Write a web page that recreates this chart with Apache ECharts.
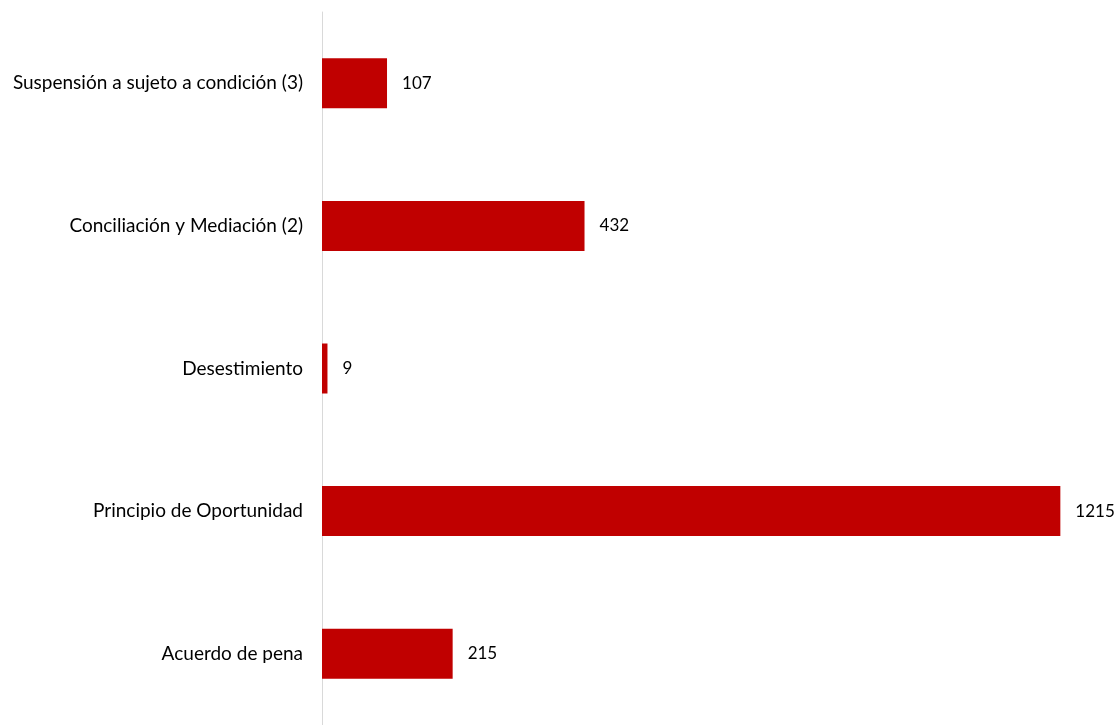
<!DOCTYPE html>
<html><head><meta charset="utf-8">
<script src="https://cdn.jsdelivr.net/npm/echarts@6/dist/echarts.min.js"></script>
<style>html,body{margin:0;padding:0;background:#fff}#c{width:1120px;height:725px}</style>
</head><body><div id="c"></div>
<script>
const categories = ["Acuerdo de pena", "Principio de Oportunidad", "Desestimiento", "Conciliación y Mediación (2)", "Suspensión a sujeto a condición (3)"];
const values = [215, 1215, 9, 432, 107];

const chart = echarts.init(document.getElementById('c'));
chart.setOption({
  animation: false,
  grid: { left: 322, top: 12, width: 790, height: 717, containLabel: false },
  xAxis: { type: 'value', min: 0, max: 1300, show: false },
  yAxis: {
    type: 'category', data: categories,
    axisLine: { show: true, lineStyle: { color: '#d9d9d9', width: 1 } },
    axisTick: { show: false },
    axisLabel: { color: '#000', fontFamily: 'Lato', fontSize: 19, margin: 19 }
  },
  series: [{
    type: 'bar', data: values, barWidth: 50,
    itemStyle: { color: '#c00000' },
    label: { show: true, position: 'right', distance: 15, color: '#000', fontFamily: 'Lato', fontSize: 17 }
  }]
});
</script></body></html>
